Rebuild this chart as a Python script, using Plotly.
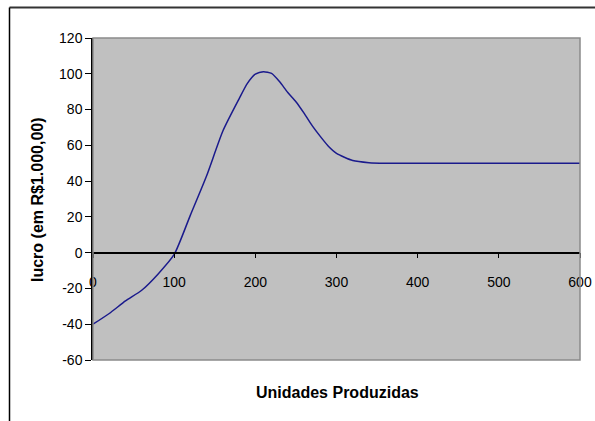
import plotly.graph_objects as go

units = [0, 20, 40, 60, 80, 100, 120, 140, 160, 180, 190, 200, 210, 220, 230, 240, 250, 260, 270, 280, 290, 300, 320, 340, 360, 400, 500, 600]
lucro = [-40, -34, -27, -21, -12, -1, 21, 43, 68, 86, 94.5, 99.8, 101.2, 100.2, 95.5, 89.5, 84.4, 78, 71, 65, 59.5, 55.5, 51.5, 50.3, 50, 50, 50, 50]

x_ticks = [0, 100, 200, 300, 400, 500, 600]
y_ticks = [-60, -40, -20, 0, 20, 40, 60, 80, 100, 120]

FONT = "Liberation Sans, Arial, sans-serif"

fig = go.Figure()
fig.add_trace(go.Scatter(x=units, y=lucro, mode="lines",
                         line=dict(color="#1a1a8c", width=1.5, shape="spline", smoothing=0.6),
                         showlegend=False, hoverinfo="skip"))

L, R, T, B = 93, 15, 38, 61
W, H = 595, 421
pw = W - L - R
ph = H - T - B

def px_x(p):
    return (p - L) / pw

def px_y(p):
    return (H - B - p) / ph

fig.update_layout(
    width=W, height=H,
    margin=dict(l=L, r=R, t=T, b=B, autoexpand=False),
    paper_bgcolor="white",
    plot_bgcolor="#c0c0c0",
    font=dict(family=FONT, size=14, color="black"),
    xaxis=dict(range=[0, 600], tickvals=x_ticks, ticktext=[str(v) for v in x_ticks],
               showgrid=False, zeroline=False, showline=True, linecolor="black", linewidth=1.5,
               ticks="outside", ticklen=5, tickcolor="black", anchor="free", position=1/3,
               ticklabelstandoff=12, tickfont=dict(size=14), automargin=False),
    yaxis=dict(range=[-60, 120], tickvals=y_ticks, ticktext=[str(v) for v in y_ticks],
               showgrid=False, zeroline=False, showline=True, linecolor="black", linewidth=1.5,
               ticks="outside", ticklen=6, tickcolor="black", tickfont=dict(size=14), automargin=False),
    shapes=[
        dict(type="rect", xref="paper", yref="paper", x0=0, x1=1, y0=0, y1=1,
             line=dict(color="#8a8a8a", width=1.5), layer="above"),
        dict(type="line", xref="paper", yref="paper", x0=px_x(9.5), x1=px_x(W), y0=px_y(7.5), y1=px_y(7.5),
             line=dict(color="#333333", width=2)),
        dict(type="line", xref="paper", yref="paper", x0=px_x(9.5), x1=px_x(9.5), y0=px_y(7.5), y1=px_y(H),
             line=dict(color="black", width=1.5)),
    ],
    annotations=[
        dict(text="<b>lucro (em R$1.000,00)</b>", xref="paper", yref="paper",
             x=px_x(38), y=px_y(200), textangle=-90, showarrow=False,
             xanchor="center", yanchor="middle", font=dict(size=16)),
        dict(text="<b>Unidades Produzidas</b>", xref="paper", yref="paper",
             x=px_x(337), y=px_y(392), showarrow=False,
             xanchor="center", yanchor="middle", font=dict(size=16)),
    ],
)

fig.write_html("out.html")
